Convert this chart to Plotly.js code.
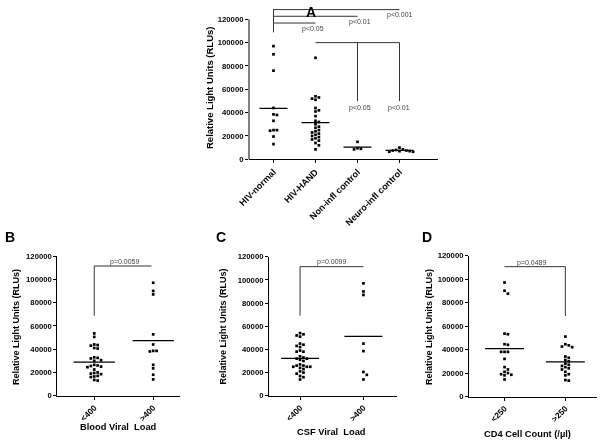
<!DOCTYPE html>
<html><head><meta charset="utf-8">
<script src="https://cdn.plot.ly/plotly-3.0.1.min.js"></script>
<style>html,body{margin:0;padding:0;background:#fff}#chart{will-change:transform}</style>
</head><body>
<div id="chart" style="width:602px;height:445px"></div>
<script>
// ---------- DATA ----------
const catsA = ['HIV-normal', 'HIV-HAND', 'Non-infl control', 'Neuro-infl control'];
const hivNormal = [97000, 90000, 76000, 44000, 38500, 38000, 33000, 25000, 25000, 24500, 19500, 13000];
const hivHand = [87000, 54000, 53000, 52000, 51000, 44000, 42000, 41000, 37000, 33000, 32000, 30000, 28000, 27000,
                 25000, 24000, 23000, 22000, 21000, 20000, 19000, 18000, 17000, 16000, 14000, 12000, 8500];
const nonInfl = [15000, 9500, 9000, 8500];
const neuroInfl = [10000, 8500, 8000, 7500, 7500, 7000, 7000, 6500, 6500];

const catsB = ['<400', '>400'];
const bloodLow = [53500, 50500, 44000, 43500, 43000, 41000, 40500, 33000, 32500, 32000, 30500, 30000, 26500, 26000,
                  25500, 25000, 24500, 22500, 20000, 19500, 19000, 18500, 17000, 16500, 16000, 13500, 13000];
const bloodHigh = [97000, 90000, 87000, 52700, 44000, 38500, 38500, 38000, 26500, 23500, 18000, 14000];

const catsC = ['<400', '>400'];
const csfLow = [54000, 53000, 52000, 51000, 45000, 44000, 43000, 42000, 39000, 38000, 38000, 34000, 33000, 32000,
                32000, 31000, 30000, 27000, 26000, 26000, 25000, 25000, 25000, 24000, 23000, 21000, 20000, 19000,
                17000, 16000, 14000];
const csfHigh = [97000, 90000, 87000, 45000, 38500, 20500, 18000, 14000];

const catsD = ['<250', '>250'];
const cd4Low = [97000, 90000, 87500, 53500, 53000, 44500, 44000, 38000, 38000, 38000, 32000, 25000, 23000, 21000,
                20000, 19000, 18500, 18000, 14500];
const cd4High = [51000, 44500, 43500, 42500, 42000, 34000, 33000, 31000, 30000, 28000, 27000, 26000, 25000, 24000,
                 23000, 21000, 19000, 18000, 14000, 13500];

const yTickVals = [0, 20000, 40000, 60000, 80000, 100000, 120000];
const yTickText = ['0', '20000', '40000', '60000', '80000', '100000', '120000'];

const pvalA = ['p<0.05', 'p<0.01', 'p<0.001', 'p<0.05', 'p<0.01'];
const pvalB = 'p=0.0059', pvalC = 'p=0.0099', pvalD = 'p=0.0489';

// ---------- LAYOUT / STYLE ----------
const W = 602, H = 445;
const FONT = 'Arial, "Liberation Sans", Helvetica, sans-serif';
const panels = [
  {id: '',  letter: 'A', cats: catsA, groups: [hivNormal, hivHand, nonInfl, neuroInfl],
   px: [249, 438], xr: [-0.583, 3.917], py: [159.3, 5.3], yr: [0, 132000], half: 0.333, xfont: 9,
   axisTop: 120000, letterPos: [311, 12], ytitle: [210, 88, 9.5], xtitle: null,
   brackets: [[0, 108800, 0, 128600], [0, 128300, 3, 128300], [0, 122600, 2, 122600], [0, 116800, 1, 116800],
              [1, 100000, 3, 100000], [2, 100000, 2, 50000], [3, 100000, 3, 50000]],
   plabels: [[0.95, 111900, pvalA[0]], [2.05, 117400, pvalA[1]], [3.02, 123700, pvalA[2]],
             [2.07, 44200, pvalA[3]], [3.0, 44200, pvalA[4]]]},
  {id: '2', letter: 'B', cats: catsB, groups: [bloodLow, bloodHigh],
   px: [57.3, 180], xr: [-0.627, 1.455], py: [395.7, 256], yr: [0, 120000], half: 0.35, xfont: 8.3,
   letterPos: [10, 237], ytitle: [16, 327, 9], xtitle: ['Blood Viral\u00a0 Load', 118, 426.5],
   brackets: [[0, 68700, 0, 111400], [0, 111400, 0.97, 111400]],
   plabels: [[0.52, 114900, pvalB]]},
  {id: '3', letter: 'C', cats: catsC, groups: [csfLow, csfHigh],
   px: [269, 397], xr: [-0.49, 1.53], py: [395.7, 256.7], yr: [0, 120000], half: 0.3, xfont: 8.3,
   letterPos: [220.5, 237], ytitle: [222.5, 327, 9], xtitle: ['CSF Viral\u00a0 Load', 331.7, 431.7],
   brackets: [[0, 69100, 0, 111400], [0, 111400, 1, 111400]],
   plabels: [[0.5, 115400, pvalC]]},
  {id: '4', letter: 'D', cats: catsD, groups: [cd4Low, cd4High],
   px: [469, 597], xr: [-0.584, 1.52], py: [396.5, 255.5], yr: [0, 120000], half: 0.32, xfont: 8.3,
   letterPos: [426.5, 237], ytitle: [428.5, 327.5, 9], xtitle: ['CD4 Cell Count (/\u00b5l)', 527.7, 434],
   brackets: [[0, 110500, 1, 110500], [1, 110500, 1, 68500]],
   plabels: [[0.45, 113900, pvalD]]}
];

// spread overlapping points horizontally (beeswarm)
function swarm(vals, pxPerX, pxPerY) {
  const step = 3.4, placed = [], off = new Array(vals.length);
  const order = vals.map((v, i) => i).sort((a, b) => vals[b] - vals[a]);
  for (const i of order) {
    const yp = vals[i] * pxPerY;
    for (let k = 0; k < 60; k++) {
      const o = (k % 2 ? 1 : -1) * Math.ceil(k / 2) * step;
      if (!placed.some(p => Math.abs(p.y - yp) < 3 && Math.abs(p.x - o) < 3)) {
        placed.push({x: o, y: yp}); off[i] = o / pxPerX; break;
      }
    }
  }
  return off;
}

const traces = [], shapes = [], annotations = [];
const layout = {
  width: W, height: H, margin: {l: 0, r: 0, t: 0, b: 0},
  paper_bgcolor: '#fff', plot_bgcolor: 'rgba(0,0,0,0)', showlegend: false,
  font: {family: FONT, color: '#000'}
};

panels.forEach(p => {
  const xd = [p.px[0] / W, p.px[1] / W];
  const yd = [1 - p.py[0] / H, 1 - p.py[1] / H];
  const pxPerX = (p.px[1] - p.px[0]) / (p.xr[1] - p.xr[0]);
  const pxPerY = (p.py[0] - p.py[1]) / (p.yr[1] - p.yr[0]);
  const xa = 'x' + p.id, ya = 'y' + p.id;
  layout['xaxis' + p.id] = {
    domain: xd, range: p.xr, anchor: ya, tickmode: 'array',
    tickvals: p.cats.map((c, i) => i), ticktext: p.cats, tickangle: -45,
    ticks: 'outside', ticklen: 3, tickwidth: 1, tickcolor: '#000',
    showline: true, linecolor: '#000', linewidth: 1, showgrid: false, zeroline: false,
    tickfont: {family: FONT, size: p.xfont, color: '#000', weight: 'bold'}, fixedrange: true
  };
  layout['yaxis' + p.id] = {
    domain: yd, range: p.yr, anchor: xa, tickmode: 'array',
    tickvals: yTickVals, ticktext: yTickText,
    ticks: 'outside', ticklen: 3, tickwidth: 1, tickcolor: '#000',
    showline: !p.axisTop, linecolor: '#000', linewidth: 1, showgrid: false, zeroline: false,
    tickfont: {family: FONT, size: 7.7, color: '#000', weight: 'bold'}, fixedrange: true
  };
  if (p.axisTop) {
    shapes.push({type: 'line', xref: 'paper', yref: 'paper', x0: xd[0], x1: xd[0],
      y0: yd[0], y1: yd[0] + (p.axisTop - p.yr[0]) / (p.yr[1] - p.yr[0]) * (yd[1] - yd[0]),
      line: {color: '#000', width: 1}});
  }
  p.groups.forEach((g, i) => {
    const off = swarm(g, pxPerX, pxPerY);
    traces.push({type: 'scatter', mode: 'markers', xaxis: xa, yaxis: ya,
      x: g.map((v, j) => i + off[j]), y: g, cliponaxis: false,
      marker: {symbol: 'square', size: 2.7, color: '#000', line: {width: 0}}, hoverinfo: 'y'});
    const mean = g.reduce((a, b) => a + b, 0) / g.length;
    traces.push({type: 'scatter', mode: 'lines', xaxis: xa, yaxis: ya,
      x: [i - p.half, i + p.half], y: [mean, mean], line: {color: '#000', width: 1.2}, hoverinfo: 'skip'});
  });
  p.brackets.forEach(b => shapes.push({type: 'line', xref: xa, yref: ya,
    x0: b[0], y0: b[1], x1: b[2], y1: b[3], line: {color: '#333', width: 1}}));
  p.plabels.forEach(l => annotations.push({xref: xa, yref: ya, x: l[0], y: l[1], text: l[2],
    showarrow: false, xanchor: 'center', yanchor: 'middle',
    font: {family: FONT, size: 7, color: '#444'}}));
  annotations.push({xref: 'paper', yref: 'paper', x: p.letterPos[0] / W, y: 1 - p.letterPos[1] / H,
    text: p.letter, showarrow: false, xanchor: 'center', yanchor: 'middle',
    font: {family: FONT, size: 14, color: '#000', weight: 'bold'}});
  annotations.push({xref: 'paper', yref: 'paper', x: p.ytitle[0] / W, y: 1 - p.ytitle[1] / H,
    text: 'Relative Light Units (RLUs)', textangle: -90, showarrow: false,
    xanchor: 'center', yanchor: 'middle',
    font: {family: FONT, size: p.ytitle[2], color: '#000', weight: 'bold'}});
  if (p.xtitle) {
    annotations.push({xref: 'paper', yref: 'paper', x: p.xtitle[1] / W, y: 1 - p.xtitle[2] / H,
      text: p.xtitle[0], showarrow: false, xanchor: 'center', yanchor: 'middle',
      font: {family: FONT, size: 9.3, color: '#000', weight: 'bold'}});
  }
});
layout.shapes = shapes;
layout.annotations = annotations;

Plotly.newPlot('chart', traces, layout, {staticPlot: true, displayModeBar: false});
</script>
</body></html>
